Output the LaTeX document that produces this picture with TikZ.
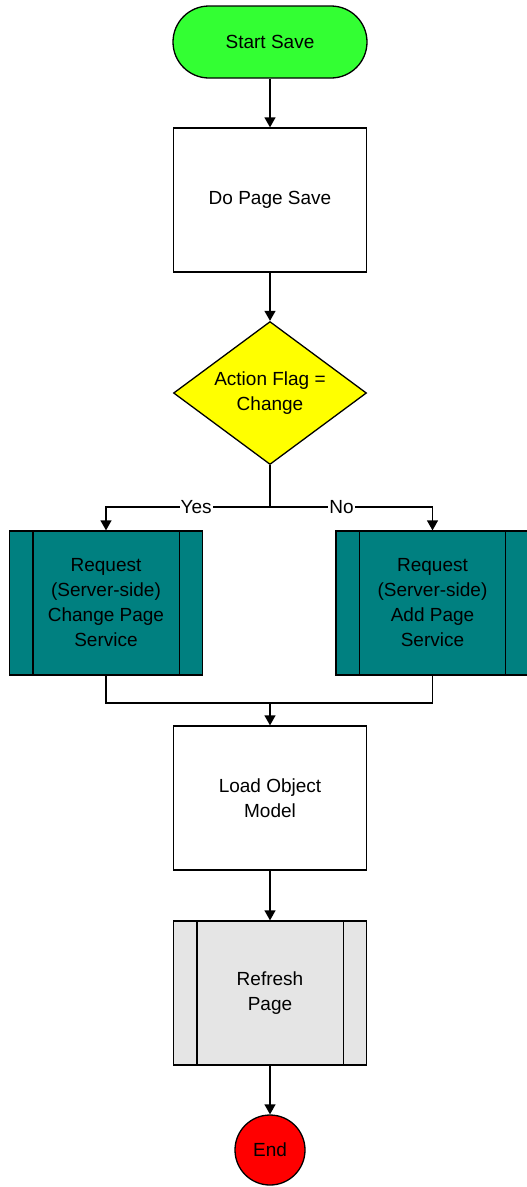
\documentclass[tikz,border=0pt]{standalone}
\usepackage{fontspec}
\setmainfont{Liberation Sans}
\usetikzlibrary{shapes.geometric,arrows.meta}

\definecolor{startgreen}{RGB}{51,255,51}
\definecolor{flagyellow}{RGB}{255,255,0}
\definecolor{servteal}{RGB}{0,128,128}
\definecolor{refgray}{RGB}{229,229,229}
\definecolor{endred}{RGB}{255,0,0}

\begin{document}
\begin{tikzpicture}[x=1pt,y=1pt,
  every node/.style={font=\fontsize{19}{25}\selectfont, align=center},
  box/.style={draw, line width=1.3pt, minimum width=193pt, minimum height=144pt},
  flow/.style={line width=1.3pt},
  arr/.style={flow, -{Triangle[width=11pt,length=10pt]}},
  branch/.style={fill=white, inner sep=1pt}]
  \useasboundingbox (0,0) rectangle (527,-1187);

  \node[box, fill=startgreen, rounded corners=36pt, minimum width=194pt, minimum height=72pt] (start) at (270,-42) {Start Save};
  \node[box] (save) at (270,-200) {Do Page Save};
  \node[box, diamond, aspect=1.35, fill=flagyellow, inner sep=0pt, minimum height=143pt] (flag) at (270,-393) {Action Flag =\\Change};
  \node[box, fill=servteal] (chg) at (106,-603) {Request\\(Server-side)\\Change Page\\Service};
  \node[box, fill=servteal] (add) at (432.5,-603) {Request\\(Server-side)\\Add Page\\Service};
  \node[box] (load) at (270,-798) {Load Object\\Model};
  \node[box, fill=refgray] (refresh) at (270,-993) {Refresh\\Page};
  \node[draw, line width=1.3pt, circle, fill=endred, minimum size=70pt, inner sep=0pt] (end) at (270,-1150) {End};

  % side strips of the process boxes
  \foreach \n in {chg,add,refresh} {
    \draw[flow] ([xshift=24pt]\n.north west) -- ([xshift=24pt]\n.south west);
    \draw[flow] ([xshift=-24pt]\n.north east) -- ([xshift=-24pt]\n.south east);
  }

  \coordinate (split) at (270,-507);
  \coordinate (merge) at (270,-703);

  \draw[arr] (start) -- (save);
  \draw[arr] (save) -- (flag);
  \draw[flow] (flag) -- (split);
  \draw[arr] (split) -- node[branch, pos=0.45] {Yes} (split -| chg) -- (chg);
  \draw[arr] (split) -- node[branch, pos=0.44] {No} (split -| add) -- (add);
  \draw[flow] (chg) |- (merge);
  \draw[flow] (add) |- (merge);
  \draw[arr] (merge) -- (load);
  \draw[arr] (load) -- (refresh);
  \draw[arr] (refresh) -- (end);
\end{tikzpicture}
\end{document}
